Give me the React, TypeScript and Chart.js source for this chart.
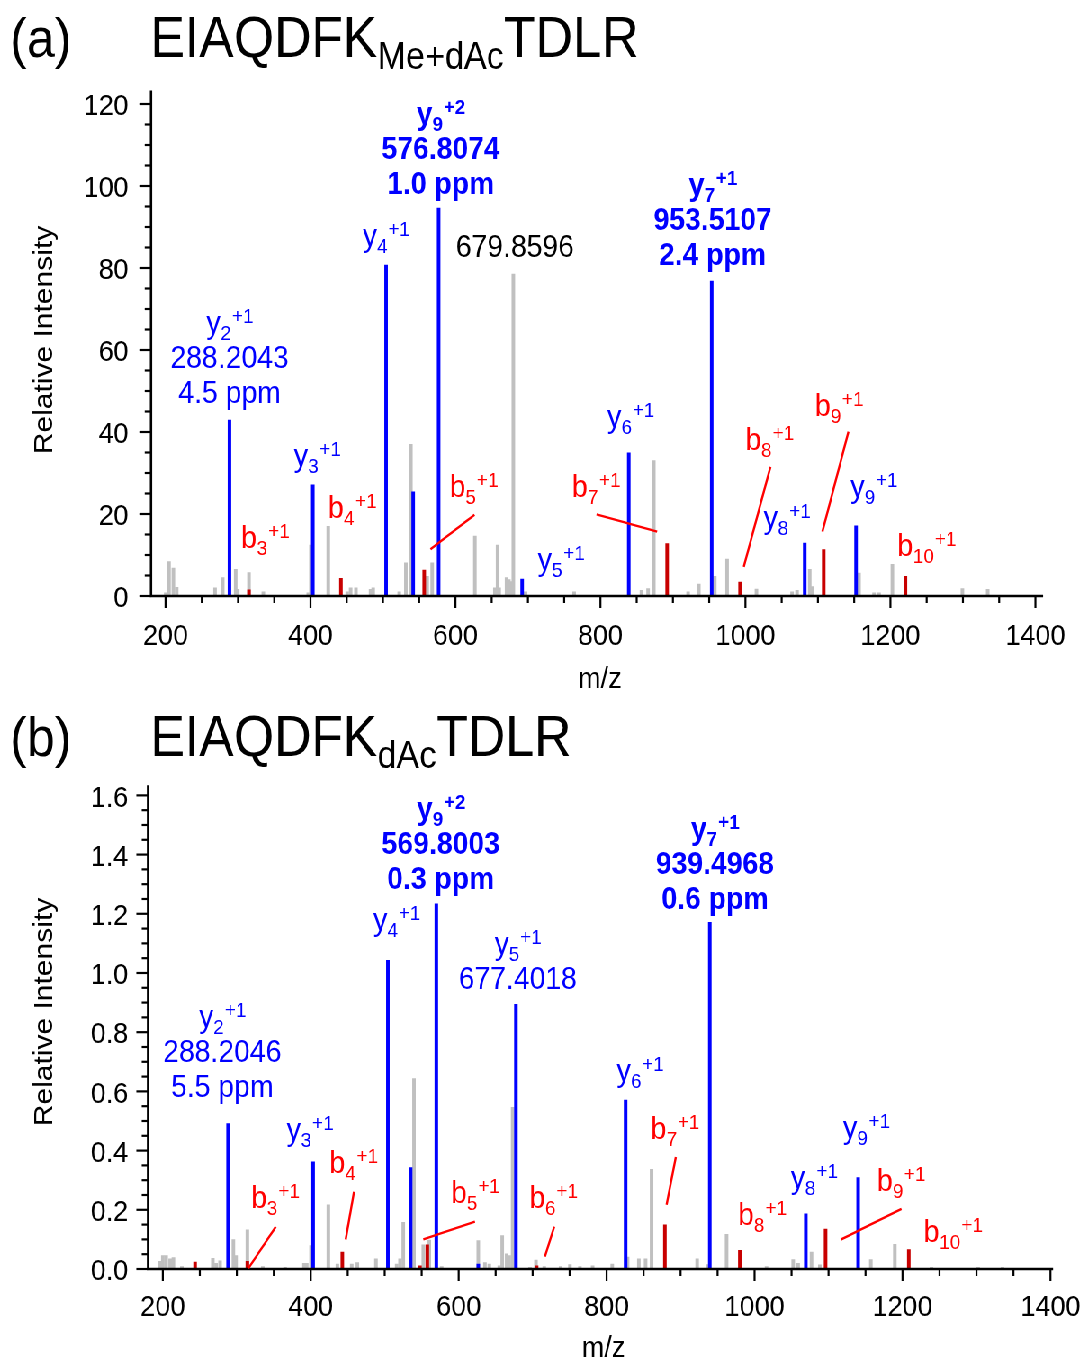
import React, { useEffect, useRef } from "react";
import { Chart, registerables } from "chart.js";

Chart.register(...registerables);

// ---------------- data : panel (a) EIAQDFK(Me+dAc)TDLR ----------------
const xTickValues = [200, 400, 600, 800, 1000, 1200, 1400];
const aYTickValues = [0, 20, 40, 60, 80, 100, 120];
const bYTickValues = [0, 0.2, 0.4, 0.6, 0.8, 1.0, 1.2, 1.4, 1.6];

const aBlueMz = [288.2, 403.2, 504.3, 541.7, 576.8, 692.0, 839.1, 953.5, 1081.8, 1152.6];
const aBlueInt = [42.9, 27.1, 80.7, 25.4, 94.6, 4.1, 34.9, 76.8, 12.9, 17.1];

const aRedMz = [315.1, 442.0, 556.9, 892.0, 992.6, 1108.0, 1220.7];
const aRedInt = [1.5, 4.3, 6.3, 12.8, 3.4, 11.3, 4.8];

const aGrayMz = [200.3, 204.8, 210.8, 215.4, 268.3, 278.9, 296.8, 299.6, 315.1, 334.9, 396.9, 400.6, 424.5, 450.7, 455.4, 462.7, 482.9, 486.5, 522.4, 531.6, 538.5, 561.0, 567.9, 626.8, 654.4, 658.1, 660.3, 670.5, 673.7, 676.4, 679.86, 696.7, 763.7, 856.6, 865.7, 873.6, 920.9, 935.7, 957.7, 974.7, 1015.2, 1064.3, 1071.2, 1088.7, 1091.9, 1156.7, 1177.4, 1184.3, 1202.7, 1299.3, 1334.2];
const aGrayInt = [0.8, 8.4, 6.8, 2.1, 2.0, 4.5, 6.5, 1.6, 5.7, 1.0, 0.8, 12.4, 17.0, 1.0, 2.0, 2.0, 1.6, 2.0, 1.0, 8.1, 37.0, 4.8, 8.1, 14.6, 2.0, 12.4, 2.0, 4.5, 4.0, 3.5, 78.5, 1.0, 1.0, 1.4, 1.8, 33.0, 1.0, 2.9, 4.8, 9.0, 1.7, 1.0, 1.4, 6.5, 2.3, 5.6, 0.8, 0.8, 7.7, 1.8, 1.6];

// ---------------- data : panel (b) EIAQDFK(dAc)TDLR ----------------
const bBlueMz = [288.2, 403.2, 504.3, 535.1, 569.8, 626.5, 677.4, 825.7, 939.5, 1069.3, 1140.0];
const bBlueInt = [0.491, 0.362, 1.043, 0.343, 1.234, 0.017, 0.894, 0.571, 1.171, 0.186, 0.309];

const bRedMz = [243.6, 314.3, 442.7, 547.7, 557.6, 705.4, 878.8, 980.1, 1096.0, 1208.5];
const bRedInt = [0.023, 0.026, 0.057, 0.011, 0.082, 0.011, 0.149, 0.063, 0.135, 0.066];

const bGrayMz = [196.4, 200.0, 204.5, 209.9, 214.3, 225.7, 267.6, 272.0, 277.4, 295.4, 299.0, 314.3, 335.1, 365.3, 390.9, 394.6, 400.4, 423.8, 436.0, 455.4, 463.0, 488.2, 516.2, 520.7, 525.1, 539.6, 552.2, 560.3, 577.0, 626.5, 635.5, 641.4, 654.9, 658.9, 664.9, 668.4, 673.0, 696.4, 704.5, 715.7, 737.8, 750.4, 763.9, 781.1, 807.6, 828.4, 843.6, 852.7, 860.8, 922.4, 937.3, 962.2, 1016.2, 1052.2, 1058.9, 1077.0, 1088.2, 1157.2, 1189.6, 1239.2, 1302.2, 1335.1];
const bGrayInt = [0.026, 0.045, 0.045, 0.034, 0.039, 0.008, 0.036, 0.019, 0.028, 0.099, 0.045, 0.132, 0.008, 0.006, 0.019, 0.019, 0.079, 0.217, 0.017, 0.017, 0.022, 0.034, 0.017, 0.034, 0.158, 0.643, 0.082, 0.098, 0.008, 0.096, 0.022, 0.017, 0.011, 0.113, 0.051, 0.045, 0.546, 0.006, 0.030, 0.008, 0.008, 0.015, 0.008, 0.011, 0.017, 0.040, 0.034, 0.034, 0.337, 0.034, 0.015, 0.117, 0.008, 0.032, 0.019, 0.057, 0.014, 0.032, 0.083, 0.006, 0.006, 0.006];

// ---------------- annotations (anchored in data units) ----------------
type Ion = { ion: string; n: string; z: string };
type Line = string | Ion;
type Label = { lines: Line[]; mz: number; int: number; color: string; bold?: boolean };
type Leader = { from: [number, number]; to: [number, number] };

const BLUE = "#0000ff";
const RED = "#ff0000";
const BLACK = "#000000";

const aLabels: Label[] = [
  { lines: [{ ion: "y", n: "2", z: "+1" }, "288.2043", "4.5 ppm"], mz: 288.3, int: 64.1, color: BLUE },
  { lines: [{ ion: "y", n: "9", z: "+2" }, "576.8074", "1.0 ppm"], mz: 579.6, int: 115.1, color: BLUE, bold: true },
  { lines: [{ ion: "y", n: "7", z: "+1" }, "953.5107", "2.4 ppm"], mz: 954.7, int: 97.8, color: BLUE, bold: true },
  { lines: [{ ion: "y", n: "4", z: "+1" }], mz: 504.1, int: 85.4, color: BLUE },
  { lines: ["679.8596"], mz: 681.9, int: 82.6, color: BLACK },
  { lines: [{ ion: "y", n: "3", z: "+1" }], mz: 408.9, int: 31.8, color: BLUE },
  { lines: [{ ion: "b", n: "3", z: "+1" }], mz: 337.2, int: 11.7, color: RED },
  { lines: [{ ion: "b", n: "4", z: "+1" }], mz: 457.2, int: 19.0, color: RED },
  { lines: [{ ion: "b", n: "5", z: "+1" }], mz: 625.0, int: 24.1, color: RED },
  { lines: [{ ion: "y", n: "5", z: "+1" }], mz: 745.4, int: 6.3, color: BLUE },
  { lines: [{ ion: "b", n: "7", z: "+1" }], mz: 793.6, int: 24.1, color: RED },
  { lines: [{ ion: "y", n: "6", z: "+1" }], mz: 841.2, int: 41.2, color: BLUE },
  { lines: [{ ion: "b", n: "8", z: "+1" }], mz: 1032.9, int: 35.6, color: RED },
  { lines: [{ ion: "b", n: "9", z: "+1" }], mz: 1128.7, int: 43.9, color: RED },
  { lines: [{ ion: "y", n: "8", z: "+1" }], mz: 1057.0, int: 16.6, color: BLUE },
  { lines: [{ ion: "y", n: "9", z: "+1" }], mz: 1176.7, int: 24.1, color: BLUE },
  { lines: [{ ion: "b", n: "10", z: "+1" }], mz: 1249.6, int: 9.8, color: RED },
];
const aLeaders: Leader[] = [
  { from: [626.3, 19.8], to: [565.6, 11.4] },
  { from: [794.6, 19.9], to: [878.2, 15.7] },
  { from: [1034.5, 31.5], to: [997.7, 7.1] },
  { from: [1142.1, 40.1], to: [1106.2, 15.7] },
];

const bLabels: Label[] = [
  { lines: [{ ion: "y", n: "2", z: "+1" }, "288.2046", "5.5 ppm"], mz: 280.4, int: 0.818, color: BLUE },
  { lines: [{ ion: "y", n: "9", z: "+2" }, "569.8003", "0.3 ppm"], mz: 575.8, int: 1.52, color: BLUE, bold: true },
  { lines: [{ ion: "y", n: "7", z: "+1" }, "939.4968", "0.6 ppm"], mz: 946.4, int: 1.453, color: BLUE, bold: true },
  { lines: [{ ion: "y", n: "4", z: "+1" }], mz: 515.7, int: 1.144, color: BLUE },
  { lines: [{ ion: "y", n: "5", z: "+1" }, "677.4018"], mz: 679.9, int: 1.064, color: BLUE },
  { lines: [{ ion: "y", n: "3", z: "+1" }], mz: 398.6, int: 0.436, color: BLUE },
  { lines: [{ ion: "b", n: "3", z: "+1" }], mz: 351.8, int: 0.206, color: RED },
  { lines: [{ ion: "b", n: "4", z: "+1" }], mz: 457.6, int: 0.324, color: RED },
  { lines: [{ ion: "b", n: "5", z: "+1" }], mz: 622.0, int: 0.223, color: RED },
  { lines: [{ ion: "b", n: "6", z: "+1" }], mz: 727.8, int: 0.206, color: RED },
  { lines: [{ ion: "y", n: "6", z: "+1" }], mz: 845.0, int: 0.635, color: BLUE },
  { lines: [{ ion: "b", n: "7", z: "+1" }], mz: 892.0, int: 0.44, color: RED },
  { lines: [{ ion: "b", n: "8", z: "+1" }], mz: 1010.1, int: 0.149, color: RED },
  { lines: [{ ion: "y", n: "8", z: "+1" }], mz: 1080.4, int: 0.275, color: BLUE },
  { lines: [{ ion: "y", n: "9", z: "+1" }], mz: 1150.8, int: 0.441, color: BLUE },
  { lines: [{ ion: "b", n: "9", z: "+1" }], mz: 1197.7, int: 0.264, color: RED },
  { lines: [{ ion: "b", n: "10", z: "+1" }], mz: 1268.0, int: 0.091, color: RED },
];
const bLeaders: Leader[] = [
  { from: [352.7, 0.143], to: [315.7, 0.002] },
  { from: [458.5, 0.261], to: [447.3, 0.1] },
  { from: [622.0, 0.16], to: [552.2, 0.1] },
  { from: [729.2, 0.143], to: [716.6, 0.042] },
  { from: [893.6, 0.378], to: [881.1, 0.217] },
  { from: [1198.6, 0.203], to: [1116.6, 0.099] },
];

// ---------------- layout / style ----------------
const SX = 0.9; // the figure's text is horizontally condensed
const W = 1203;
const FAM = "'Liberation Sans', Arial, Helvetica, sans-serif";
const BAR_BLUE = "#0000ff";
const BAR_RED = "#c80000";
const BAR_GRAY = "#c0c0c0";

type PanelCfg = {
  height: number;
  tag: string;
  sub: string;
  titleBase: number;
  xMin: number;
  xMax: number;
  yMax: number;
  yTicks: number[];
  yMajor: number;
  yMinor: number;
  yDecimals: number;
  padTop: number;
  padRight: number;
  yWidth: number;
  xHeight: number;
  yLabelPad: number;
  xLabelPad: number;
  yTitleY: number;
  xTitleY: number;
  blue: { x: number; y: number }[];
  red: { x: number; y: number }[];
  gray: { x: number; y: number }[];
  labels: Label[];
  leaders: Leader[];
};

const pts = (xs: number[], ys: number[]) => xs.map((x, i) => ({ x, y: ys[i] }));

const panelA: PanelCfg = {
  height: 690,
  tag: "(a)",
  sub: "Me+dAc",
  titleBase: 57,
  xMin: 180,
  xMax: 1409,
  yMax: 123,
  yTicks: aYTickValues,
  yMajor: 20,
  yMinor: 5,
  yDecimals: 0,
  padTop: 91.7,
  padRight: W - 1042 / SX,
  yWidth: 151 / SX,
  xHeight: 690 - 596,
  yLabelPad: 25,
  xLabelPad: 23,
  yTitleY: 340,
  xTitleY: 680,
  blue: pts(aBlueMz, aBlueInt),
  red: pts(aRedMz, aRedInt),
  gray: pts(aGrayMz, aGrayInt),
  labels: aLabels,
  leaders: aLeaders,
};

const panelB: PanelCfg = {
  height: 671,
  tag: "(b)",
  sub: "dAc",
  titleBase: 66,
  xMin: 180,
  xMax: 1402,
  yMax: 1.63,
  yTicks: bYTickValues,
  yMajor: 0.2,
  yMinor: 0.05,
  yDecimals: 1,
  padTop: 96.5,
  padRight: W - 1052 / SX,
  yWidth: 148 / SX,
  xHeight: 671 - 579,
  yLabelPad: 22,
  xLabelPad: 21,
  yTitleY: 322,
  xTitleY: 659,
  blue: pts(bBlueMz, bBlueInt),
  red: pts(bRedMz, bRedInt),
  gray: pts(bGrayMz, bGrayInt),
  labels: bLabels,
  leaders: bLeaders,
};

function drawLabel(ctx: CanvasRenderingContext2D, xs: any, ys: any, lab: Label) {
  const F = 31.5;
  const f = 21;
  const w = lab.bold ? "bold " : "";
  const cx = xs.getPixelForValue(lab.mz);
  let by = ys.getPixelForValue(lab.int);
  ctx.fillStyle = lab.color;
  ctx.textBaseline = "alphabetic";
  for (const line of lab.lines) {
    if (typeof line === "string") {
      ctx.font = `${w}${F}px ${FAM}`;
      ctx.textAlign = "center";
      ctx.fillText(line, cx, by);
    } else {
      ctx.font = `${w}${F}px ${FAM}`;
      const wm = ctx.measureText(line.ion).width;
      ctx.font = `${w}${f}px ${FAM}`;
      const wn = ctx.measureText(line.n).width;
      const wz = ctx.measureText(line.z).width;
      const x0 = cx - (wm + wn + wz) / 2;
      ctx.textAlign = "left";
      ctx.font = `${w}${F}px ${FAM}`;
      ctx.fillText(line.ion, x0, by);
      ctx.font = `${w}${f}px ${FAM}`;
      ctx.fillText(line.n, x0 + wm, by + 7);
      ctx.fillText(line.z, x0 + wm + wn + 1, by - 10);
    }
    by += 35;
  }
}

function makeOverlay(p: PanelCfg) {
  return {
    id: "overlay",
    afterDraw(chart: any) {
      const ctx: CanvasRenderingContext2D = chart.ctx;
      const xs = chart.scales.x;
      const ys = chart.scales.y;
      const { left, right, top, bottom } = chart.chartArea;
      ctx.save();
      // axes
      ctx.strokeStyle = "#000";
      ctx.lineWidth = 2.6;
      ctx.lineCap = "square";
      ctx.beginPath();
      ctx.moveTo(left, top);
      ctx.lineTo(left, bottom);
      ctx.lineTo(right, bottom);
      ctx.stroke();
      ctx.lineCap = "butt";
      ctx.lineWidth = 2.2;
      // y ticks (major + minor)
      const nMinor = Math.round(p.yMax / p.yMinor + 1e-6);
      const ratio = Math.round(p.yMajor / p.yMinor);
      for (let i = 0; i <= nMinor; i++) {
        const v = i * p.yMinor;
        if (v > p.yMax) break;
        const py = ys.getPixelForValue(v);
        const len = i % ratio === 0 ? 13 : 7;
        ctx.beginPath();
        ctx.moveTo(left - len, py);
        ctx.lineTo(left, py);
        ctx.stroke();
      }
      // x ticks (major + minor)
      for (let v = 200; v <= p.xMax; v += 50) {
        const px = xs.getPixelForValue(v);
        const len = v % 200 === 0 ? 12 : 7;
        ctx.beginPath();
        ctx.moveTo(px, bottom);
        ctx.lineTo(px, bottom + len);
        ctx.stroke();
      }
      // axis titles
      ctx.fillStyle = "#000";
      ctx.font = `30px ${FAM}`;
      ctx.textAlign = "center";
      ctx.textBaseline = "middle";
      ctx.fillText("m/z", (left + right) / 2 + 4, p.xTitleY);
      ctx.save();
      ctx.translate(50, p.yTitleY);
      ctx.rotate(-Math.PI / 2);
      ctx.fillText("Relative Intensity", 0, 0);
      ctx.restore();
      // panel title
      ctx.textBaseline = "alphabetic";
      ctx.textAlign = "left";
      ctx.font = `56px ${FAM}`;
      ctx.fillText(p.tag, 11, p.titleBase);
      let tx = 167;
      ctx.font = `57.5px ${FAM}`;
      ctx.fillText("EIAQDFK", tx, p.titleBase);
      tx += ctx.measureText("EIAQDFK").width;
      ctx.font = `38px ${FAM}`;
      ctx.fillText(p.sub, tx, p.titleBase + 12);
      tx += ctx.measureText(p.sub).width;
      ctx.font = `57.5px ${FAM}`;
      ctx.fillText("TDLR", tx, p.titleBase);
      // leader lines
      ctx.strokeStyle = RED;
      ctx.lineWidth = 2.4;
      for (const l of p.leaders) {
        ctx.beginPath();
        ctx.moveTo(xs.getPixelForValue(l.from[0]), ys.getPixelForValue(l.from[1]));
        ctx.lineTo(xs.getPixelForValue(l.to[0]), ys.getPixelForValue(l.to[1]));
        ctx.stroke();
      }
      // ion labels
      for (const lab of p.labels) drawLabel(ctx, xs, ys, lab);
      ctx.restore();
    },
  };
}

function buildConfig(p: PanelCfg): any {
  const barDs = (data: any[], color: string) => ({
    data,
    backgroundColor: color,
    borderWidth: 0,
    barThickness: 3.3,
    grouped: false,
  });
  return {
    type: "bar",
    data: {
      datasets: [barDs(p.blue, BAR_BLUE), barDs(p.red, BAR_RED), barDs(p.gray, BAR_GRAY)],
    },
    options: {
      responsive: false,
      animation: false,
      devicePixelRatio: 1,
      layout: { padding: { left: 0, right: p.padRight, top: p.padTop, bottom: 0 } },
      plugins: { legend: { display: false }, tooltip: { enabled: false }, title: { display: false } },
      scales: {
        x: {
          type: "linear",
          min: p.xMin,
          max: p.xMax,
          offset: false,
          grid: { display: false, drawTicks: false },
          border: { display: false },
          afterBuildTicks: (s: any) => {
            s.ticks = xTickValues.map((v) => ({ value: v }));
          },
          afterFit: (s: any) => {
            s.height = p.xHeight;
            s.paddingLeft = 0;
            s.paddingRight = 0;
          },
          ticks: {
            autoSkip: false,
            maxRotation: 0,
            padding: p.xLabelPad,
            color: "#000",
            font: { family: FAM, size: 30 },
            callback: (v: any) => String(v),
          },
        },
        y: {
          type: "linear",
          min: 0,
          max: p.yMax,
          grid: { display: false, drawTicks: false },
          border: { display: false },
          afterBuildTicks: (s: any) => {
            s.ticks = p.yTicks.map((v) => ({ value: v }));
          },
          afterFit: (s: any) => {
            s.width = p.yWidth;
            s.paddingTop = 0;
            s.paddingBottom = 0;
          },
          ticks: {
            autoSkip: false,
            padding: p.yLabelPad,
            labelOffset: 3,
            color: "#000",
            font: { family: FAM, size: 30 },
            callback: (v: any) => Number(v).toFixed(p.yDecimals),
          },
        },
      },
    },
    plugins: [makeOverlay(p)],
  };
}

function Panel({ cfg }: { cfg: PanelCfg }) {
  const ref = useRef<HTMLCanvasElement | null>(null);
  useEffect(() => {
    if (!ref.current) return;
    const chart = new Chart(ref.current, buildConfig(cfg));
    return () => chart.destroy();
  }, [cfg]);
  return (
    <canvas
      ref={ref}
      width={W}
      height={cfg.height}
      style={{ display: "block", width: `${W}px`, height: `${cfg.height}px` }}
    />
  );
}

export default function App() {
  useEffect(() => {
    document.documentElement.style.overflow = "hidden";
    document.body.style.overflow = "hidden";
  }, []);
  return (
    <div
      style={{
        position: "absolute",
        left: 0,
        top: 0,
        width: `${W}px`,
        height: "1361px",
        background: "#fff",
        transform: `scaleX(${SX})`,
        transformOrigin: "0 0",
      }}
    >
      <Panel cfg={panelA} />
      <Panel cfg={panelB} />
    </div>
  );
}
